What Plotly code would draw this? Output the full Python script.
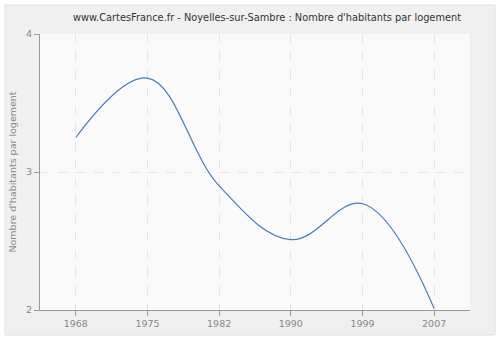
import plotly.graph_objects as go

years = ["1968", "1975", "1982", "1990", "1999", "2007"]
values = [3.25, 3.68, 2.9, 2.51, 2.77, 2.01]
y_ticks = [2, 3, 4]

idx = list(range(len(years)))

fig = go.Figure()
fig.add_trace(go.Scatter(
    x=idx, y=values, mode="lines",
    line=dict(color="#4a7bb0", width=1.2, shape="spline", smoothing=1.1),
    hoverinfo="skip", showlegend=False,
))

font = "DejaVu Sans, Verdana, sans-serif"
fig.update_layout(
    width=500, height=340,
    margin=dict(l=40, r=30, t=34, b=30, autoexpand=False),
    paper_bgcolor="white",
    plot_bgcolor="#fafafa",
    font=dict(family=font, size=9.5, color="#888"),
    title=dict(
        text="www.CartesFrance.fr - Noyelles-sur-Sambre : Nombre d'habitants par logement",
        x=267/500, xanchor="center", y=1-18/340, yanchor="middle",
        font=dict(family=font, size=9.8, color="#333"),
    ),
    xaxis=dict(
        range=[-0.5, 5.5], tickvals=idx, ticktext=years,
        showline=True, linecolor="#999", linewidth=1,
        ticks="outside", ticklen=5, tickcolor="#999",
        showgrid=True, gridcolor="#e4e4e4", griddash="dash", gridwidth=1,
        zeroline=False, fixedrange=True, automargin=False,
    ),
    yaxis=dict(
        range=[2, 4], tickvals=y_ticks, ticktext=[str(v) for v in y_ticks],
        showline=True, linecolor="#999", linewidth=1,
        ticks="outside", ticklen=5, tickcolor="#999",
        showgrid=True, gridcolor="#e4e4e4", griddash="dash", gridwidth=1,
        zeroline=False, fixedrange=True, automargin=False,
        title=dict(text="Nombre d'habitants par logement", standoff=7,
                   font=dict(family=font, size=9.5, color="#888")),
    ),
    shapes=[
        dict(
            type="rect", xref="paper", yref="paper", layer="below",
            x0=-35/430, x1=1+25/430, y0=-25/276, y1=1+29/276,
            fillcolor="#f0f0f0", line=dict(color="#e0e0e0", width=1),
        ),
        dict(
            type="rect", xref="x domain", yref="y domain", layer="below",
            x0=0, x1=1, y0=0, y1=1,
            fillcolor="#fafafa", line=dict(width=0),
        ),
    ],
)

fig.write_html("out.html")
